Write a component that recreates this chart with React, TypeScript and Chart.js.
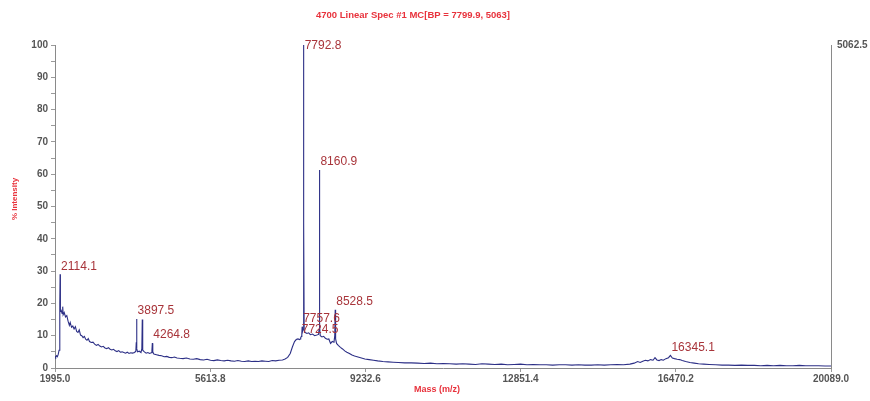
import React, { useEffect, useRef } from "react";
import { Chart, registerables } from "chart.js";

Chart.register(...registerables);

const massValues: number[] = [
  1995, 2010, 2030, 2050, 2070, 2090, 2104, 2110, 2114.1, 2118, 2124, 2140, 2160, 2175, 2185, 2210, 2240, 2270, 2300, 2330,
  2350, 2380, 2410, 2440, 2470, 2500, 2530, 2560, 2590, 2620, 2650, 2680, 2710, 2740, 2770, 2800, 2840, 2880, 2920, 2960,
  3000, 3040, 3080, 3120, 3160, 3200, 3240, 3280, 3320, 3360, 3400, 3440, 3480, 3520, 3560, 3600, 3640, 3680, 3720, 3760,
  3800, 3850, 3880, 3890, 3897.5, 3905, 3920, 3960, 4000, 4020, 4030, 4040, 4080, 4120, 4160, 4200, 4240, 4255, 4264.8, 4275,
  4300, 4360, 4420, 4480, 4540, 4600, 4660, 4720, 4780, 4840, 4900, 4980, 5060, 5140, 5220, 5300, 5380, 5460, 5540, 5620,
  5700, 5780, 5860, 5940, 6020, 6100, 6180, 6260, 6340, 6420, 6500, 6580, 6660, 6740, 6820, 6900, 6980, 7060, 7140, 7220,
  7300, 7360, 7420, 7480, 7530, 7580, 7620, 7660, 7700, 7715, 7724.5, 7740, 7750, 7757.6, 7765, 7780, 7788, 7792.8, 7798, 7805,
  7830, 7870, 7910, 7950, 8000, 8050, 8100, 8140, 8152, 8160.9, 8168, 8180, 8220, 8260, 8300, 8340, 8380, 8420, 8460, 8500,
  8518, 8528.5, 8538, 8560, 8600, 8650, 8700, 8750, 8800, 8860, 8920, 8980, 9060, 9140, 9220, 9320, 9420, 9520, 9640, 9760,
  9880, 10000, 10150, 10300, 10450, 10600, 10750, 10900, 11050, 11200, 11350, 11500, 11650, 11800, 11950, 12100, 12250, 12400, 12550, 12700,
  12850, 13000, 13150, 13300, 13450, 13600, 13750, 13900, 14050, 14200, 14350, 14500, 14650, 14800, 14950, 15100, 15250, 15400, 15500, 15580,
  15640, 15700, 15760, 15820, 15880, 15940, 15985, 16030, 16080, 16130, 16180, 16240, 16300, 16345.1, 16390, 16440, 16500, 16560, 16620, 16700,
  16800, 16900, 17000, 17120, 17250, 17400, 17550, 17700, 17850, 18000, 18150, 18300, 18450, 18600, 18750, 18900, 19050, 19200, 19350, 19500,
  19650, 19800, 19950, 20089,
];

const intensityValues: number[] = [
  3.6, 3.3, 3.8, 3.5, 4.2, 5.5, 10, 20, 29, 20, 17.5, 17.8, 16.9, 19, 16.5, 17.2, 15.8, 16.2, 14.5, 13.2,
  14.1, 12.6, 13.0, 12.1, 12.8, 11.3, 11.0, 11.8, 10.2, 10.0, 9.4, 9.8, 8.9, 8.6, 9.1, 8.2, 7.9, 8.0, 7.4, 7.0,
  7.3, 6.8, 6.5, 6.7, 6.2, 6.0, 6.3, 5.8, 5.6, 5.8, 5.3, 5.1, 5.4, 4.9, 5.0, 4.8, 4.6, 4.9, 4.5, 4.7,
  4.6, 4.8, 5.2, 8, 15.2, 6, 5.0, 5.2, 4.8, 6, 15.0, 5.5, 5.0, 4.6, 4.8, 4.5, 4.7, 5.5, 7.7, 5,
  4.3, 4.1, 3.9, 3.8, 3.5, 3.6, 3.3, 3.2, 3.4, 3.1, 3.0, 2.9, 3.1, 2.8, 2.7, 2.9, 2.6, 2.5, 2.7, 2.4,
  2.3, 2.5, 2.3, 2.2, 2.4, 2.2, 2.1, 2.3, 2.1, 2.0, 2.2, 2.0, 2.1, 2.0, 2.2, 2.1, 2.0, 2.3, 2.2, 2.4,
  2.5, 2.8, 3.3, 4.5, 6.5, 8.2, 8.8, 9.0, 8.8, 9.0, 9.4, 9.8, 10.5, 12.8, 11.2, 12, 40, 100, 45, 11.5,
  11.0, 10.7, 10.9, 10.3, 10.5, 10.0, 10.2, 10.4, 12, 61.3, 13, 10.0, 9.6, 9.8, 9.2, 8.9, 9.0, 7.6, 8.2, 8.0,
  10, 18.0, 9, 7.6, 7.0, 6.4, 5.9, 5.3, 4.9, 4.5, 4.0, 3.7, 3.4, 3.1, 2.8, 2.6, 2.4, 2.2, 2.0, 1.9,
  1.8, 1.7, 1.6, 1.6, 1.5, 1.4, 1.5, 1.3, 1.4, 1.3, 1.2, 1.3, 1.2, 1.1, 1.3, 1.2, 1.1, 1.2, 1.0, 1.1,
  1.2, 1.0, 1.1, 1.0, 1.0, 0.9, 1.0, 1.0, 0.9, 1.0, 0.9, 0.9, 1.0, 0.9, 1.0, 1.1, 1.0, 1.2, 1.5, 2.0,
  1.7, 2.1, 2.4, 2.2, 2.6, 2.4, 3.2, 2.5, 2.3, 2.6, 2.4, 2.9, 3.2, 3.9, 3.1, 2.9, 2.7, 2.6, 2.3, 2.0,
  1.7, 1.5, 1.3, 1.2, 1.1, 1.0, 0.9, 0.9, 0.8, 0.9, 0.8, 0.8, 0.7, 0.8, 0.7, 0.8, 0.7, 0.7, 0.8, 0.7,
  0.7, 0.7, 0.6, 0.6,
];

const peakMasses: number[] = [2114.1, 3897.5, 4264.8, 7724.5, 7757.6, 7792.8, 8160.9, 8528.5, 16345.1];
const peakLabels: string[] = ["2114.1", "3897.5", "4264.8", "7724.5", "7757.6", "7792.8", "8160.9", "8528.5", "16345.1"];

const xTickValues: number[] = [1995.0, 5613.8, 9232.6, 12851.4, 16470.2, 20089.0];
const yTickValues: number[] = [0, 5, 10, 15, 20, 25, 30, 35, 40, 45, 50, 55, 60, 65, 70, 75, 80, 85, 90, 95, 100];
const rightAxisMax = 5062.5;

const chartTitle = "4700 Linear Spec #1 MC[BP = 7799.9, 5063]";
const xTitle = "Mass (m/z)";
const yTitle = "% Intensity";

const FONT = "'Liberation Sans', Arial, sans-serif";

const overlayPlugin = {
  id: "overlay",
  afterDatasetsDraw(chart: any) {
    const ctx = chart.ctx;
    const xs = chart.scales.x;
    const ys = chart.scales.y;
    const area = chart.chartArea;
    ctx.save();
    ctx.font = `12px ${FONT}`;
    ctx.fillStyle = "#a8343a";
    ctx.textAlign = "left";
    ctx.textBaseline = "middle";
    peakMasses.forEach((m, i) => {
      const idx = massValues.indexOf(m);
      const v = idx >= 0 ? intensityValues[idx] : 0;
      const px = xs.getPixelForValue(m);
      const py = ys.getPixelForValue(v);
      const ty = Math.max(py - 8, area.top + 1);
      ctx.fillText(peakLabels[i], px + 1, ty);
    });
    ctx.fillStyle = "#e8323c";
    ctx.textAlign = "center";
    ctx.font = `bold 9.5px ${FONT}`;
    ctx.fillText(chartTitle, 413, 15);
    ctx.font = `bold 9px ${FONT}`;
    ctx.fillText(xTitle, 437, 390);
    ctx.font = `bold 8px ${FONT}`;
    ctx.translate(15, 199);
    ctx.rotate(-Math.PI / 2);
    ctx.fillText(yTitle, 0, 0);
    ctx.restore();
  },
};

export default function App() {
  const ref = useRef<HTMLCanvasElement | null>(null);
  useEffect(() => {
    if (!ref.current) return;
    const data = massValues.map((m, i) => ({ x: m, y: intensityValues[i] }));
    const chart = new Chart(ref.current, {
      type: "line",
      data: {
        datasets: [
          {
            data,
            borderColor: "#2c2f86",
            borderWidth: 1.1,
            pointRadius: 0,
            tension: 0,
            fill: false,
            yAxisID: "y",
          },
        ],
      },
      options: {
        animation: false,
        responsive: false,
        devicePixelRatio: 1,
        layout: { padding: { top: 45, left: 0, right: 0, bottom: 0 } },
        plugins: { legend: { display: false }, tooltip: { enabled: false }, title: { display: false } },
        scales: {
          x: {
            type: "linear",
            min: xTickValues[0],
            max: xTickValues[xTickValues.length - 1],
            afterBuildTicks: (s: any) => {
              s.ticks = xTickValues.map((v) => ({ value: v }));
            },
            afterFit: (s: any) => {
              s.height = 33;
            },
            ticks: {
              autoSkip: false,
              maxRotation: 0,
              padding: 1,
              color: "#555",
              font: { family: FONT, size: 10, weight: "bold" },
              callback: (v: any) => Number(v).toFixed(1),
            },
            grid: { drawOnChartArea: false, drawTicks: true, tickLength: 4, color: "#9a9a9a" },
            border: { display: true, color: "#8a8a8a" },
          },
          y: {
            type: "linear",
            position: "left",
            min: 0,
            max: 100,
            afterBuildTicks: (s: any) => {
              s.ticks = yTickValues.map((v) => ({ value: v }));
            },
            afterFit: (s: any) => {
              s.width = 55;
            },
            ticks: {
              autoSkip: false,
              padding: 3,
              color: "#555",
              font: { family: FONT, size: 10, weight: "bold" },
              callback: (v: any) => (Number(v) % 10 === 0 ? String(v) : ""),
            },
            grid: { drawOnChartArea: false, drawTicks: true, tickLength: 4, color: "#9a9a9a" },
            border: { display: true, color: "#8a8a8a" },
          },
          y2: {
            type: "linear",
            position: "right",
            min: 0,
            max: rightAxisMax,
            afterBuildTicks: (s: any) => {
              s.ticks = [{ value: rightAxisMax }];
            },
            afterFit: (s: any) => {
              s.width = 39;
            },
            ticks: {
              padding: 6,
              color: "#555",
              font: { family: FONT, size: 10, weight: "bold" },
              callback: (v: any) => Number(v).toFixed(1),
            },
            grid: { display: false, drawTicks: false },
            border: { display: true, color: "#8a8a8a" },
          },
        },
      },
      plugins: [overlayPlugin],
    } as any);
    return () => chart.destroy();
  }, []);
  return (
    <div style={{ position: "absolute", left: 0, top: 0, width: 870, height: 401, background: "#fff" }}>
      <canvas ref={ref} width={870} height={401} />
    </div>
  );
}
